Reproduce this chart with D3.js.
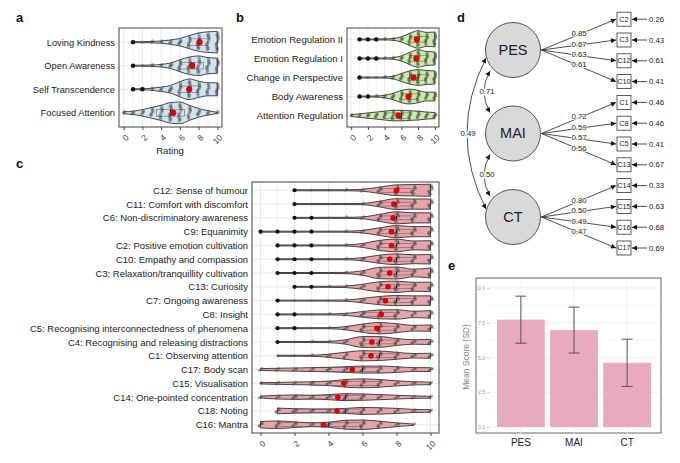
<!DOCTYPE html>
<html><head><meta charset="utf-8">
<script src="https://cdn.jsdelivr.net/npm/d3@7"></script>
<style>
body{margin:0;background:#fff;}
svg{font-family:"Liberation Sans",Arial,Helvetica,sans-serif;}
</style></head><body>
<svg id="chart" width="680" height="463"></svg>
<script>
// ---------- Panel a ----------
const aItems = ["Loving Kindness","Open Awareness","Self Transcendence","Focused Attention"];
const aMeans = [8.1, 7.3, 7.0, 5.3];
const aDens = [
  [null,0.03,0.04,0.06,0.1,0.2,0.35,0.6,0.85,0.95,1.0],
  [null,0.03,0.04,0.06,0.12,0.25,0.55,0.8,0.9,0.75,0.7],
  [null,0.04,0.05,0.1,0.2,0.35,0.7,0.95,0.75,0.6,0.6],
  [0.1,0.15,0.3,0.5,0.7,0.95,1.0,0.7,0.4,0.2,0.05]
];
const aOutliers = [[1],[1],[1,2],[]];
const aQ1 = [7,6,6,3.5], aMed = [8,7.5,7,5], aQ3 = [9,8.5,8,6.5];

// ---------- Panel b ----------
const bItems = ["Emotion Regulation II","Emotion Regulation I","Change in Perspective","Body Awareness","Attention Regulation"];
const bMeans = [7.85, 7.8, 7.45, 6.85, 5.65];
const bDens = [
  [null,0.03,0.03,0.03,0.05,0.1,0.3,0.7,1.0,0.8,0.85],
  [null,0.03,0.03,0.03,0.05,0.1,0.3,0.7,1.0,0.8,0.75],
  [null,0.03,0.03,0.03,0.05,0.15,0.45,0.75,0.9,0.8,0.75],
  [null,0.03,0.03,0.05,0.15,0.35,0.7,0.85,0.7,0.5,0.5],
  [0.1,0.2,0.3,0.4,0.5,0.6,0.6,0.55,0.5,0.4,0.35]
];
const bOutliers = [[1,2,3],[1,2,3],[1],[1,2],[]];
const bQ1 = [7,7,7,6,4], bMed = [8,8,8,7,6], bQ3 = [9,9,9,8,7];

// ---------- Panel c ----------
const cItems = ["C12: Sense of humour","C11: Comfort with discomfort","C6: Non-discriminatory awareness","C9: Equanimity",
  "C2: Positive emotion cultivation","C10: Empathy and compassion","C3: Relaxation/tranquillity cultivation","C13: Curiosity",
  "C7: Ongoing awareness","C8: Insight","C5: Recognising interconnectedness of phenomena","C4: Recognising and releasing distractions",
  "C1: Observing attention","C17: Body scan","C15: Visualisation","C14: One-pointed concentration","C18: Noting","C16: Mantra"];
const cMeans = [8.0,7.85,7.8,7.7,7.7,7.6,7.6,7.5,7.35,7.1,6.85,6.55,6.5,5.4,4.9,4.55,4.5,3.7];
const cDens = [
  [null,null,0.03,0.03,0.03,0.05,0.15,0.5,0.85,0.9,0.95],
  [null,null,0.03,0.03,0.03,0.04,0.1,0.45,0.85,0.8,0.8],
  [null,null,0.03,0.03,0.03,0.05,0.15,0.55,0.95,0.8,0.8],
  [0.03,0.03,0.03,0.03,0.03,0.05,0.2,0.6,0.95,0.8,0.8],
  [null,0.03,0.03,0.03,0.04,0.08,0.3,0.8,1.0,0.7,0.75],
  [null,0.03,0.03,0.03,0.04,0.08,0.25,0.65,0.85,0.7,0.75],
  [null,0.03,0.03,0.03,0.04,0.1,0.35,0.9,0.95,0.6,0.8],
  [null,null,0.03,0.04,0.06,0.12,0.4,0.8,0.9,0.7,0.75],
  [null,0.03,0.03,0.03,0.04,0.1,0.35,0.65,0.8,0.75,0.75],
  [null,0.03,0.03,0.04,0.06,0.15,0.45,0.7,0.75,0.5,0.6],
  [null,0.03,0.03,0.04,0.06,0.25,0.65,0.9,0.7,0.45,0.5],
  [null,0.03,0.04,0.05,0.1,0.35,0.85,0.85,0.55,0.35,0.4],
  [null,0.03,0.04,0.08,0.25,0.55,0.8,0.75,0.55,0.35,0.4],
  [0.15,0.2,0.25,0.3,0.35,0.45,0.55,0.55,0.45,0.3,0.3],
  [0.1,0.15,0.2,0.25,0.35,0.6,0.7,0.6,0.4,0.25,0.2],
  [0.15,0.3,0.35,0.3,0.4,0.55,0.5,0.4,0.3,0.2,0.15],
  [null,0.45,0.35,0.3,0.3,0.4,0.55,0.5,0.4,0.25,0.2],
  [0.5,0.6,0.45,0.3,0.4,0.7,0.75,0.55,0.3,0.1,null]
];
const cOutliers = [[2],[2],[2,3],[0,1,2,3],[1,2,3],[1,2,3],[1,2,3],[2,3],[1],[1,2],[1,2],[1],[],[],[],[],[],[]];
const cQ1 = [7,7,7,7,7,7,7,7,7,6,6,6,6,4,3,2,2,1];
const cMed = [8,8,8,8,8,8,8,8,8,7,7,7,7,6,5,5,5,4];
const cQ3 = [9,9,9,9,9,9,9,9,9,8,8,8,8,7,7,6,6,6];
const ratingTicks = [0,2,4,6,8,10];

// ---------- Panel d (SEM) ----------
const semFactors = ["PES","MAI","CT"];
const semIndicators = [["C2","C3","C12","C10"],["C1","C8","C5","C13"],["C14","C15","C16","C17"]];
const semLoadings = [[0.85,0.67,0.63,0.61],[0.72,0.59,0.57,0.56],[0.80,0.50,0.49,0.47]];
const semResiduals = [[0.26,0.43,0.61,0.41],[0.46,0.46,0.41,0.67],[0.33,0.63,0.68,0.69]];
const semCovs = [["PES","MAI",0.71],["MAI","CT",0.50],["PES","CT",0.49]];

// ---------- Panel e ----------
const eCats = ["PES","MAI","CT"];
const eMeans = [7.72, 6.97, 4.62];
const eSD = [1.69, 1.65, 1.70];
const eTicks = [0,2.5,5,7.5,10];

const svg = d3.select("#chart");

function violinPanel(o){
  const g = svg.append("g");
  const x = d3.scaleLinear().domain([-0.5,10.5]).range(o.xr);
  const y = d3.scalePoint().domain(o.items).range(o.yr).padding(0.6);
  const step = y.step(), maxHalf = step*0.46;
  g.selectAll(".vg").data(d3.range(0,11)).join("line")
    .attr("x1",d=>x(d)).attr("x2",d=>x(d)).attr("y1",o.yr[0]).attr("y2",o.yr[1])
    .attr("stroke", d=>d%2===0?"#e4e4e4":"#efefef").attr("stroke-width",0.8);
  g.selectAll(".hg").data(o.items).join("line")
    .attr("x1",o.xr[0]).attr("x2",o.xr[1]).attr("y1",d=>y(d)).attr("y2",d=>y(d))
    .attr("stroke","#e4e4e4").attr("stroke-width",0.8);
  const area = d3.area().curve(d3.curveMonotoneX);
  const halfW = w => Math.max(w*maxHalf, 0.5);
  o.items.forEach((it,i)=>{
    const cy = y(it);
    const pts = o.dens[i].map((w,v)=>({v,w})).filter(p=>p.w!==null);
    area.x(p=>x(p.v)).y0(p=>cy-halfW(p.w)).y1(p=>cy+halfW(p.w));
    g.append("path").attr("d",area(pts)).attr("fill",o.fill)
      .attr("stroke","#333").attr("stroke-width",0.9);
    const offs = [0,-0.55,0.5,-0.25,0.3,-0.8,0.75,-0.4,0.15,0.6,-0.65];
    const xo = [0,0.08,-0.08,0.12,-0.1,0.05,-0.05,0.1,-0.12,0.03,-0.03];
    pts.forEach(p=>{
      const n = 1+Math.round(p.w*10);
      for(let k=0;k<n;k++){
        g.append("circle").attr("cx",x(p.v+xo[k%11])).attr("cy",cy+offs[k%11]*Math.max(p.w*maxHalf,2))
          .attr("r",o.pr).attr("fill","rgba(70,70,70,0.42)");
      }
    });
    const bh = step*0.14;
    g.append("rect").attr("x",x(o.q1[i])).attr("y",cy-bh).attr("width",x(o.q3[i])-x(o.q1[i])).attr("height",2*bh)
      .attr("fill","none").attr("stroke","#555").attr("stroke-width",0.5);
    g.append("line").attr("x1",x(o.med[i])).attr("x2",x(o.med[i])).attr("y1",cy-bh).attr("y2",cy+bh)
      .attr("stroke","#222").attr("stroke-width",1.1);
    o.outliers[i].forEach(v=>{
      g.append("circle").attr("cx",x(v)).attr("cy",cy).attr("r",o.or).attr("fill","#111");
    });
    g.append("circle").attr("cx",x(o.means[i])).attr("cy",cy).attr("r",o.mr).attr("fill","#e00000");
  });
  g.append("rect").attr("x",o.xr[0]).attr("y",o.yr[0]).attr("width",o.xr[1]-o.xr[0]).attr("height",o.yr[1]-o.yr[0])
    .attr("fill","none").attr("stroke","#444").attr("stroke-width",1);
  const ax = g.append("g").attr("transform",`translate(0,${o.yr[1]})`)
    .call(d3.axisBottom(x).tickValues(ratingTicks).tickSize(3).tickSizeOuter(0));
  ax.select(".domain").remove();
  ax.selectAll("line").attr("stroke","#444");
  ax.selectAll("text").attr("y",0).attr("dy","0.35em").attr("transform","translate(3,9) rotate(-45)")
    .style("text-anchor","end").attr("fill","#444").style("font-size","8.5px").style("font-family","inherit");
  const ay = g.append("g").attr("transform",`translate(${o.xr[0]},0)`)
    .call(d3.axisLeft(y).tickSize(0).tickPadding(4));
  ay.select(".domain").remove();
  ay.selectAll("text").attr("fill","#222").style("font-size",o.fs).style("font-family","inherit");
  return {x,y};
}

violinPanel({items:aItems,dens:aDens,means:aMeans,outliers:aOutliers,q1:aQ1,med:aMed,q3:aQ3,
  xr:[119,222],yr:[28,127],fill:"#cfe4ef",fs:"9.3px",pr:1.7,or:2.2,mr:3.1});
violinPanel({items:bItems,dens:bDens,means:bMeans,outliers:bOutliers,q1:bQ1,med:bMed,q3:bQ3,
  xr:[347,439],yr:[28,127],fill:"#c6eba6",fs:"9.6px",pr:1.6,or:2.2,mr:3.1});
violinPanel({items:cItems,dens:cDens,means:cMeans,outliers:cOutliers,q1:cQ1,med:cMed,q3:cQ3,
  xr:[252,439],yr:[182,433],fill:"#e7a3aa",fs:"9.5px",pr:1.4,or:2.1,mr:2.8});

svg.append("text").attr("x",170).attr("y",154).attr("text-anchor","middle").style("font-size","9.6px").attr("fill","#222").text("Rating");

[["a",16,22],["b",236,22],["c",16,168],["d",457,22],["e",448,270]].forEach(([t,x,y])=>{
  svg.append("text").attr("x",x).attr("y",y).style("font-size","13px").style("font-weight","bold").attr("fill","#111").text(t);
});

// ---------- SEM ----------
const defs = svg.append("defs");
defs.append("marker").attr("id","arr").attr("viewBox","0 0 10 10").attr("refX",10).attr("refY",5)
  .attr("markerWidth",6).attr("markerHeight",5).attr("markerUnits","userSpaceOnUse").attr("orient","auto-start-reverse")
  .append("path").attr("d","M0,0 L10,5 L0,10 z").attr("fill","#111");
const fy = d3.scalePoint().domain(semFactors).range([50,217]);
const allInd = semIndicators.flat();
const iy = d3.scalePoint().domain(allInd).range([19.2,248]);
const fx = 513, fr = 27.5, bx0 = 617, bw = 14, bh = 14;
const fmt = d3.format(".2f");
const gd = svg.append("g");
semFactors.forEach((f,fi)=>{
  semIndicators[fi].forEach((ind,k)=>{
    const x1 = fx+fr+1, y1 = fy(f), x2 = bx0-1, y2 = iy(ind);
    gd.append("line").attr("x1",x1).attr("y1",y1).attr("x2",x2).attr("y2",y2)
      .attr("stroke","#222").attr("stroke-width",0.8).attr("marker-end","url(#arr)");
    const lx = 579, t = (lx-x1)/(x2-x1), ly = y1+t*(y2-y1);
    gd.append("text").attr("x",lx).attr("y",ly-0.5).attr("text-anchor","middle").attr("dominant-baseline","middle")
      .style("font-size","7.8px").attr("fill","#222")
      .style("stroke","#fff").style("stroke-width","1.5px").style("paint-order","stroke").text(fmt(semLoadings[fi][k]));
    gd.append("rect").attr("x",bx0).attr("y",y2-bh/2).attr("width",bw).attr("height",bh)
      .attr("fill","#fff").attr("stroke","#333").attr("stroke-width",0.8);
    gd.append("text").attr("x",bx0+bw/2).attr("y",y2+0.5).attr("text-anchor","middle").attr("dominant-baseline","middle")
      .style("font-size","7.3px").attr("fill","#222").text(ind);
    gd.append("line").attr("x1",647).attr("y1",y2).attr("x2",bx0+bw+1).attr("y2",y2)
      .attr("stroke","#222").attr("stroke-width",0.8).attr("marker-end","url(#arr)");
    gd.append("text").attr("x",649).attr("y",y2+0.5).attr("dominant-baseline","middle")
      .style("font-size","7.8px").attr("fill","#222").text(fmt(semResiduals[fi][k]));
  });
});
semCovs.forEach(([a,b,v])=>{
  const ya = fy(a), yb = fy(b);
  const adj = Math.abs(semFactors.indexOf(a)-semFactors.indexOf(b))===1;
  let x0, y0, x1, y1, cx, lx;
  if(adj){ x0=490; y0=ya+21; x1=490; y1=yb-21; cx=478; lx=487; }
  else { x0=486; y0=ya+8; x1=486; y1=yb-8; cx=448; lx=468; }
  const cyy = (y0+y1)/2;
  gd.append("path").attr("d",`M${x0},${y0} Q${cx},${cyy} ${x1},${y1}`).attr("fill","none")
    .attr("stroke","#222").attr("stroke-width",0.8)
    .attr("marker-start","url(#arr)").attr("marker-end","url(#arr)");
  gd.append("text").attr("x",lx).attr("y",cyy).attr("text-anchor","middle").attr("dominant-baseline","middle")
    .style("font-size","7.8px").attr("fill","#222")
    .style("stroke","#fff").style("stroke-width","3px").style("paint-order","stroke").text(fmt(v));
});
semFactors.forEach(f=>{
  gd.append("circle").attr("cx",fx).attr("cy",fy(f)).attr("r",fr).attr("fill","#d9d9d9").attr("stroke","#444").attr("stroke-width",0.9);
  gd.append("text").attr("x",fx).attr("y",fy(f)+1).attr("text-anchor","middle").attr("dominant-baseline","middle")
    .style("font-size","14.5px").attr("fill","#222").text(f);
});

// ---------- Panel e ----------
const ge = svg.append("g");
const ex = d3.scaleBand().domain(eCats).range([489,659]).paddingInner(0.1).paddingOuter(0.15);
const ey = d3.scaleLinear().domain([-0.5,10.5]).range([434,281]);
ge.append("rect").attr("x",476).attr("y",278).attr("width",185).attr("height",155).attr("fill","#fff").attr("stroke","#666").attr("stroke-width",1);
ge.selectAll(".mg").data([1.25,3.75,6.25,8.75]).join("line").attr("x1",489).attr("x2",659)
  .attr("y1",d=>ey(d)).attr("y2",d=>ey(d)).attr("stroke","#f4f4f4").attr("stroke-width",0.6);
ge.selectAll(".gg").data(eTicks).join("line").attr("x1",489).attr("x2",659)
  .attr("y1",d=>ey(d)).attr("y2",d=>ey(d)).attr("stroke","#ececec").attr("stroke-width",0.8);
ge.selectAll(".xg").data(eCats).join("line").attr("y1",281).attr("y2",434)
  .attr("x1",d=>ex(d)+ex.bandwidth()/2).attr("x2",d=>ex(d)+ex.bandwidth()/2).attr("stroke","#ececec").attr("stroke-width",0.8);
ge.selectAll(".bar").data(eCats).join("rect").attr("x",d=>ex(d)).attr("width",ex.bandwidth())
  .attr("y",(d,i)=>ey(eMeans[i])).attr("height",(d,i)=>ey(0)-ey(eMeans[i])).attr("fill","#e8aabf");
eCats.forEach((c,i)=>{
  const cx = ex(c)+ex.bandwidth()/2, lo = ey(eMeans[i]-eSD[i]), hi = ey(eMeans[i]+eSD[i]);
  ge.append("line").attr("x1",cx).attr("x2",cx).attr("y1",hi).attr("y2",lo).attr("stroke","#555").attr("stroke-width",1);
  [hi,lo].forEach(yy=>ge.append("line").attr("x1",cx-5.5).attr("x2",cx+5.5).attr("y1",yy).attr("y2",yy).attr("stroke","#555").attr("stroke-width",1));
});
const eay = ge.append("g").attr("transform","translate(489,0)")
  .call(d3.axisLeft(ey).tickValues(eTicks).tickFormat(d3.format(".1f")).tickSize(2).tickPadding(2));
eay.select(".domain").remove();
eay.selectAll("line").attr("stroke","#bbb");
eay.selectAll("text").attr("fill","#999").style("font-size","5px").style("font-family","inherit");
const eax = ge.append("g").attr("transform","translate(0,434)")
  .call(d3.axisBottom(ex).tickSize(0).tickPadding(5));
eax.select(".domain").remove();
eax.selectAll("text").attr("fill","#222").style("font-size","10px").style("font-family","inherit");
svg.append("text").attr("transform","translate(467,357) rotate(-90)").attr("text-anchor","middle").attr("dominant-baseline","middle")
  .style("font-size","8.5px").attr("fill","#888").text("Mean Score (SD)");
</script>
</body></html>
